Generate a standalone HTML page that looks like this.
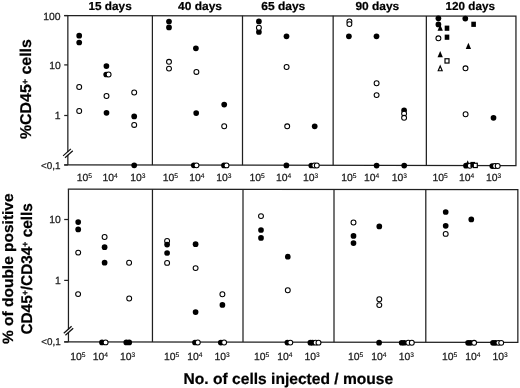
<!DOCTYPE html>
<html><head><meta charset="utf-8"><title>Engraftment chart</title>
<style>
html,body{margin:0;padding:0;background:#fff;}
body{width:520px;height:388px;overflow:hidden;font-family:"Liberation Sans",sans-serif;}
svg{display:block;will-change:transform;filter:blur(0.25px);}
.t{font-family:"Liberation Sans",sans-serif;font-size:10.4px;text-rendering:geometricPrecision;fill:#1a1a1a;stroke:#1a1a1a;stroke-width:0.25px;}
.s{font-family:"Liberation Sans",sans-serif;font-size:6.7px;text-rendering:geometricPrecision;fill:#111;stroke:#111;stroke-width:0.12px;}
.b{font-family:"Liberation Sans",sans-serif;font-weight:bold;text-rendering:geometricPrecision;fill:#000;stroke:#000;stroke-width:0.22px;}
</style></head><body>
<svg width="520" height="388" viewBox="0 0 520 388">
<rect width="520" height="388" fill="#fff"/>
<path d="M64.2 15.53L515.95 16.07L515.95 165.52L64.2 164.98" fill="none" stroke="#202020" stroke-width="1.25" stroke-linejoin="miter"/>
<line x1="67.85" y1="15.53" x2="67.85" y2="164.98" stroke="#202020" stroke-width="1.25"/>
<line x1="152.4" y1="15.63" x2="152.4" y2="165.08" stroke="#202020" stroke-width="1.25"/>
<line x1="242.5" y1="15.74" x2="242.5" y2="165.19" stroke="#202020" stroke-width="1.25"/>
<line x1="333.15" y1="15.85" x2="333.15" y2="165.3" stroke="#202020" stroke-width="1.25"/>
<line x1="426.35" y1="15.96" x2="426.35" y2="165.41" stroke="#202020" stroke-width="1.25"/>
<path d="M67.825 189.18L517.85 189.72L517.85 342.42L64.2 341.88" fill="none" stroke="#202020" stroke-width="1.25" stroke-linejoin="miter"/>
<line x1="68.45" y1="189.18" x2="68.45" y2="341.88" stroke="#202020" stroke-width="1.25"/>
<line x1="152.45" y1="189.28" x2="152.45" y2="341.98" stroke="#202020" stroke-width="1.25"/>
<line x1="243.0" y1="189.39" x2="243.0" y2="342.09" stroke="#202020" stroke-width="1.25"/>
<line x1="334.0" y1="189.5" x2="334.0" y2="342.2" stroke="#202020" stroke-width="1.25"/>
<line x1="425.8" y1="189.61" x2="425.8" y2="342.31" stroke="#202020" stroke-width="1.25"/>
<line x1="64.2" y1="15.55" x2="67.85" y2="15.55" stroke="#202020" stroke-width="1.25"/>
<line x1="64.2" y1="64.9" x2="67.85" y2="64.9" stroke="#202020" stroke-width="1.25"/>
<line x1="64.2" y1="115.5" x2="67.85" y2="115.5" stroke="#202020" stroke-width="1.25"/>
<line x1="64.2" y1="165.0" x2="67.85" y2="165.0" stroke="#202020" stroke-width="1.25"/>
<line x1="64.2" y1="219.5" x2="68.45" y2="219.5" stroke="#202020" stroke-width="1.25"/>
<line x1="64.2" y1="280.4" x2="68.45" y2="280.4" stroke="#202020" stroke-width="1.25"/>
<line x1="64.2" y1="341.9" x2="68.45" y2="341.9" stroke="#202020" stroke-width="1.25"/>
<rect x="66.64999999999999" y="152.1" width="2.4" height="2.8000000000000114" fill="#fff"/>
<line x1="63.1" y1="155.9" x2="70.9" y2="148.9" stroke="#111" stroke-width="1.25"/>
<line x1="65.0" y1="157.8" x2="72.80000000000001" y2="150.8" stroke="#111" stroke-width="1.25"/>
<rect x="67.25" y="329.4" width="2.4" height="2.900000000000034" fill="#fff"/>
<line x1="63.800000000000004" y1="333.2" x2="71.60000000000001" y2="326.2" stroke="#111" stroke-width="1.25"/>
<line x1="65.39999999999999" y1="335.2" x2="73.2" y2="328.2" stroke="#111" stroke-width="1.25"/>
<text x="60.6" y="19.55" text-anchor="end" class="t">100</text>
<text x="60.7" y="68.6" text-anchor="end" class="t">10</text>
<text x="60.6" y="118.6" text-anchor="end" class="t">1</text>
<text x="60.4" y="168.5" text-anchor="end" class="t" style="font-size:9.9px">&lt;0,1</text>
<text x="60.9" y="223.1" text-anchor="end" class="t">10</text>
<text x="60.7" y="283.8" text-anchor="end" class="t">1</text>
<text x="60.8" y="344.6" text-anchor="end" class="t" style="font-size:9.9px">&lt;0,1</text>
<text x="76.78" y="181.0" class="t">10</text>
<text x="88.28" y="177.7" class="s">5</text>
<text x="102.58" y="181.0" class="t">10</text>
<text x="114.08" y="177.7" class="s">4</text>
<text x="130.28" y="181.0" class="t">10</text>
<text x="141.78" y="177.7" class="s">3</text>
<text x="162.63" y="181.0" class="t">10</text>
<text x="174.13" y="177.7" class="s">5</text>
<text x="189.23" y="181.0" class="t">10</text>
<text x="200.73" y="177.7" class="s">4</text>
<text x="216.23" y="181.0" class="t">10</text>
<text x="227.73" y="177.7" class="s">3</text>
<text x="249.52999999999997" y="181.0" class="t">10</text>
<text x="261.03" y="177.7" class="s">5</text>
<text x="276.03" y="181.0" class="t">10</text>
<text x="287.53" y="177.7" class="s">4</text>
<text x="302.93" y="181.0" class="t">10</text>
<text x="314.43" y="177.7" class="s">3</text>
<text x="341.18" y="181.0" class="t">10</text>
<text x="352.68" y="177.7" class="s">5</text>
<text x="363.93" y="181.0" class="t">10</text>
<text x="375.43" y="177.7" class="s">4</text>
<text x="391.63" y="181.0" class="t">10</text>
<text x="403.13" y="177.7" class="s">3</text>
<text x="432.53" y="181.0" class="t">10</text>
<text x="444.03" y="177.7" class="s">5</text>
<text x="459.03" y="181.0" class="t">10</text>
<text x="470.53" y="177.7" class="s">4</text>
<text x="486.03" y="181.0" class="t">10</text>
<text x="497.53" y="177.7" class="s">3</text>
<text x="70.17999999999999" y="360.1" class="t">10</text>
<text x="81.67999999999999" y="356.8" class="s">5</text>
<text x="92.78" y="360.1" class="t">10</text>
<text x="104.28" y="356.8" class="s">4</text>
<text x="120.07999999999998" y="360.1" class="t">10</text>
<text x="131.57999999999998" y="356.8" class="s">3</text>
<text x="164.07999999999998" y="360.1" class="t">10</text>
<text x="175.57999999999998" y="356.8" class="s">5</text>
<text x="187.18" y="360.1" class="t">10</text>
<text x="198.68" y="356.8" class="s">4</text>
<text x="214.38" y="360.1" class="t">10</text>
<text x="225.88" y="356.8" class="s">3</text>
<text x="254.07999999999998" y="360.1" class="t">10</text>
<text x="265.58" y="356.8" class="s">5</text>
<text x="277.18" y="360.1" class="t">10</text>
<text x="288.68" y="356.8" class="s">4</text>
<text x="304.48" y="360.1" class="t">10</text>
<text x="315.98" y="356.8" class="s">3</text>
<text x="347.93" y="360.1" class="t">10</text>
<text x="359.43" y="356.8" class="s">5</text>
<text x="371.33" y="360.1" class="t">10</text>
<text x="382.83" y="356.8" class="s">4</text>
<text x="398.68" y="360.1" class="t">10</text>
<text x="410.18" y="356.8" class="s">3</text>
<text x="442.08" y="360.1" class="t">10</text>
<text x="453.58" y="356.8" class="s">5</text>
<text x="465.18" y="360.1" class="t">10</text>
<text x="476.68" y="356.8" class="s">4</text>
<text x="492.48" y="360.1" class="t">10</text>
<text x="503.98" y="356.8" class="s">3</text>
<text x="88.5" y="10.3" class="b" font-size="11.6" textLength="43.2" lengthAdjust="spacingAndGlyphs">15 days</text>
<text x="178" y="10.3" class="b" font-size="11.6" textLength="44.05" lengthAdjust="spacingAndGlyphs">40 days</text>
<text x="261.25" y="10.3" class="b" font-size="11.6" textLength="44.05" lengthAdjust="spacingAndGlyphs">65 days</text>
<text x="355.45" y="10.3" class="b" font-size="11.6" textLength="43.8" lengthAdjust="spacingAndGlyphs">90 days</text>
<text x="445.6" y="10.3" class="b" font-size="11.6" textLength="49.3" lengthAdjust="spacingAndGlyphs">120 days</text>
<text transform="translate(31.45 139.1) rotate(-90)" class="b" font-size="15.6" textLength="100.0" lengthAdjust="spacingAndGlyphs">%CD45<tspan dy="-3.8" font-size="8.8">+</tspan><tspan dy="3.8"> cells</tspan></text>
<text transform="translate(12.75 344.0) rotate(-90)" class="b" font-size="14.9" textLength="150.6" lengthAdjust="spacingAndGlyphs">% of double positive</text>
<text transform="translate(31.7 334.6) rotate(-90)" class="b" font-size="15.5" textLength="131.5" lengthAdjust="spacingAndGlyphs">CD45<tspan dy="-3.8" font-size="8.8">+</tspan><tspan dy="3.8">/CD34</tspan><tspan dy="-3.8" font-size="8.8">+</tspan><tspan dy="3.8"> cells</tspan></text>
<text x="183.6" y="383.55" class="b" font-size="15.5" textLength="209.6" lengthAdjust="spacingAndGlyphs">No. of cells injected / mouse</text>
<circle cx="79.2" cy="35.7" r="2.85" fill="#000"/>
<circle cx="79.2" cy="42.5" r="2.85" fill="#000"/>
<circle cx="79.2" cy="87" r="2.45" fill="#fff" stroke="#000" stroke-width="1.05"/>
<circle cx="79.2" cy="111" r="2.45" fill="#fff" stroke="#000" stroke-width="1.05"/>
<circle cx="106.4" cy="66.1" r="2.85" fill="#000"/>
<circle cx="106.2" cy="74.5" r="2.85" fill="#000"/>
<circle cx="108.6" cy="74.5" r="2.45" fill="#fff" stroke="#000" stroke-width="1.05"/>
<circle cx="106.5" cy="96" r="2.45" fill="#fff" stroke="#000" stroke-width="1.05"/>
<circle cx="106.5" cy="112.8" r="2.85" fill="#000"/>
<circle cx="134.2" cy="92.5" r="2.45" fill="#fff" stroke="#000" stroke-width="1.05"/>
<circle cx="134.2" cy="116.4" r="2.85" fill="#000"/>
<circle cx="134.2" cy="124.9" r="2.45" fill="#fff" stroke="#000" stroke-width="1.05"/>
<circle cx="134.2" cy="165.28" r="2.85" fill="#000"/>
<circle cx="169" cy="21.5" r="2.85" fill="#000"/>
<circle cx="169" cy="27.4" r="2.85" fill="#000"/>
<circle cx="169" cy="61.8" r="2.45" fill="#fff" stroke="#000" stroke-width="1.05"/>
<circle cx="169" cy="68.6" r="2.45" fill="#fff" stroke="#000" stroke-width="1.05"/>
<circle cx="195.9" cy="48.3" r="2.85" fill="#000"/>
<circle cx="196.4" cy="71.9" r="2.45" fill="#fff" stroke="#000" stroke-width="1.05"/>
<circle cx="196.2" cy="113.1" r="2.85" fill="#000"/>
<circle cx="193.8" cy="165.36" r="2.85" fill="#000"/>
<circle cx="196.5" cy="165.36" r="2.45" fill="#fff" stroke="#000" stroke-width="1.05"/>
<circle cx="224.2" cy="104.6" r="2.85" fill="#000"/>
<circle cx="224.2" cy="126.2" r="2.45" fill="#fff" stroke="#000" stroke-width="1.05"/>
<circle cx="224" cy="165.39" r="2.85" fill="#000"/>
<circle cx="226.5" cy="165.4" r="2.45" fill="#fff" stroke="#000" stroke-width="1.05"/>
<circle cx="258.9" cy="21.4" r="2.85" fill="#000"/>
<circle cx="258.9" cy="32" r="2.85" fill="#000"/>
<circle cx="258.9" cy="27.8" r="2.45" fill="#fff" stroke="#000" stroke-width="1.05"/>
<circle cx="286.5" cy="36.3" r="2.85" fill="#000"/>
<circle cx="286.6" cy="67" r="2.45" fill="#fff" stroke="#000" stroke-width="1.05"/>
<circle cx="287.2" cy="126.3" r="2.45" fill="#fff" stroke="#000" stroke-width="1.05"/>
<circle cx="286.4" cy="165.47" r="2.85" fill="#000"/>
<circle cx="314.7" cy="126.3" r="2.85" fill="#000"/>
<circle cx="311.3" cy="165.5" r="2.85" fill="#000"/>
<circle cx="314.3" cy="165.51" r="2.45" fill="#fff" stroke="#000" stroke-width="1.05"/>
<circle cx="316.8" cy="165.51" r="2.45" fill="#fff" stroke="#000" stroke-width="1.05"/>
<circle cx="349.4" cy="21.5" r="2.45" fill="#fff" stroke="#000" stroke-width="1.05"/>
<circle cx="349.4" cy="24.1" r="2.45" fill="#fff" stroke="#000" stroke-width="1.05"/>
<circle cx="348.9" cy="36.3" r="2.85" fill="#000"/>
<circle cx="376.5" cy="36.3" r="2.85" fill="#000"/>
<circle cx="376.6" cy="83.2" r="2.45" fill="#fff" stroke="#000" stroke-width="1.05"/>
<circle cx="376.6" cy="95.1" r="2.45" fill="#fff" stroke="#000" stroke-width="1.05"/>
<circle cx="376.6" cy="165.58" r="2.85" fill="#000"/>
<circle cx="404.1" cy="110.4" r="2.85" fill="#000"/>
<circle cx="404.1" cy="113.6" r="2.45" fill="#fff" stroke="#000" stroke-width="1.05"/>
<circle cx="404.1" cy="117.8" r="2.45" fill="#fff" stroke="#000" stroke-width="1.05"/>
<circle cx="404.2" cy="165.62" r="2.85" fill="#000"/>
<circle cx="438.4" cy="18.3" r="2.85" fill="#000"/>
<circle cx="438.4" cy="24.4" r="2.85" fill="#000"/>
<path d="M440.2 24.599999999999998L442.84999999999997 30.799999999999997H437.55Z" fill="#000"/>
<rect x="444.7" y="25.599999999999998" width="4.6" height="5.2" fill="#000"/>
<rect x="444.7" y="34.6" width="4.6" height="5.2" fill="#000"/>
<circle cx="438.4" cy="38.3" r="2.45" fill="#fff" stroke="#000" stroke-width="1.05"/>
<path d="M440.2 51.1L442.84999999999997 57.3H437.55Z" fill="#000"/>
<rect x="445.0" y="58.75" width="4.0" height="4.3" fill="#fff" stroke="#000" stroke-width="1.2"/>
<path d="M440.2 66.0L442.2 70.75H438.2Z" fill="#fff" stroke="#000" stroke-width="1.15"/>
<circle cx="465.3" cy="18.6" r="2.85" fill="#000"/>
<rect x="471.3" y="21.7" width="4.6" height="5.2" fill="#000"/>
<path d="M468.4 42.800000000000004L471.04999999999995 49.0H465.75Z" fill="#000"/>
<circle cx="465.5" cy="68.3" r="2.45" fill="#fff" stroke="#000" stroke-width="1.05"/>
<circle cx="465.6" cy="114.2" r="2.45" fill="#fff" stroke="#000" stroke-width="1.05"/>
<circle cx="493.5" cy="117.8" r="2.85" fill="#000"/>
<circle cx="466.0" cy="165.7" r="2.85" fill="#000"/>
<path d="M467.7 160.2L470.34999999999997 166.4H465.05Z" fill="#000"/>
<circle cx="469.8" cy="165.7" r="2.45" fill="#fff" stroke="#000" stroke-width="1.05"/>
<rect x="470.4" y="161.9" width="4.6" height="5.2" fill="#000"/>
<rect x="473.3" y="163.25" width="4.0" height="4.3" fill="#fff" stroke="#000" stroke-width="1.2"/>
<circle cx="492.3" cy="166.03" r="2.85" fill="#000"/>
<circle cx="495" cy="166.03" r="2.45" fill="#fff" stroke="#000" stroke-width="1.05"/>
<circle cx="497.7" cy="166.04000000000002" r="2.45" fill="#fff" stroke="#000" stroke-width="1.05"/>
<circle cx="78.2" cy="222.1" r="2.85" fill="#000"/>
<circle cx="78.2" cy="229.4" r="2.85" fill="#000"/>
<circle cx="78.2" cy="252.6" r="2.45" fill="#fff" stroke="#000" stroke-width="1.05"/>
<circle cx="78.1" cy="294.1" r="2.45" fill="#fff" stroke="#000" stroke-width="1.05"/>
<circle cx="104.6" cy="237" r="2.45" fill="#fff" stroke="#000" stroke-width="1.05"/>
<circle cx="104.6" cy="247.2" r="2.85" fill="#000"/>
<circle cx="104.6" cy="262.7" r="2.85" fill="#000"/>
<circle cx="102" cy="342.39" r="2.85" fill="#000"/>
<circle cx="105.6" cy="342.39" r="2.45" fill="#fff" stroke="#000" stroke-width="1.05"/>
<circle cx="129.1" cy="262.7" r="2.45" fill="#fff" stroke="#000" stroke-width="1.05"/>
<circle cx="129.2" cy="298.5" r="2.45" fill="#fff" stroke="#000" stroke-width="1.05"/>
<circle cx="126.3" cy="342.42" r="2.85" fill="#000"/>
<circle cx="129.2" cy="342.42" r="2.85" fill="#000"/>
<circle cx="167.1" cy="240.9" r="2.45" fill="#fff" stroke="#000" stroke-width="1.05"/>
<circle cx="167.1" cy="244.6" r="2.85" fill="#000"/>
<circle cx="167.1" cy="253" r="2.85" fill="#000"/>
<circle cx="167.1" cy="262.9" r="2.45" fill="#fff" stroke="#000" stroke-width="1.05"/>
<circle cx="195.6" cy="244.2" r="2.85" fill="#000"/>
<circle cx="195.6" cy="268.1" r="2.45" fill="#fff" stroke="#000" stroke-width="1.05"/>
<circle cx="195.6" cy="312.1" r="2.85" fill="#000"/>
<circle cx="195" cy="342.5" r="2.85" fill="#000"/>
<circle cx="197.8" cy="342.5" r="2.45" fill="#fff" stroke="#000" stroke-width="1.05"/>
<circle cx="222.4" cy="294.2" r="2.45" fill="#fff" stroke="#000" stroke-width="1.05"/>
<circle cx="222.4" cy="304.9" r="2.85" fill="#000"/>
<circle cx="220.8" cy="342.53" r="2.85" fill="#000"/>
<circle cx="224.1" cy="342.53" r="2.45" fill="#fff" stroke="#000" stroke-width="1.05"/>
<circle cx="261" cy="216.1" r="2.45" fill="#fff" stroke="#000" stroke-width="1.05"/>
<circle cx="261" cy="230" r="2.85" fill="#000"/>
<circle cx="261" cy="237.9" r="2.85" fill="#000"/>
<circle cx="287.8" cy="256.7" r="2.85" fill="#000"/>
<circle cx="287.8" cy="290.2" r="2.45" fill="#fff" stroke="#000" stroke-width="1.05"/>
<circle cx="287.4" cy="342.6" r="2.85" fill="#000"/>
<circle cx="290.3" cy="342.61" r="2.45" fill="#fff" stroke="#000" stroke-width="1.05"/>
<circle cx="310.4" cy="342.63" r="2.85" fill="#000"/>
<circle cx="312.5" cy="342.63" r="2.85" fill="#000"/>
<circle cx="315.6" cy="342.64" r="2.45" fill="#fff" stroke="#000" stroke-width="1.05"/>
<circle cx="318.5" cy="342.64" r="2.45" fill="#fff" stroke="#000" stroke-width="1.05"/>
<circle cx="353.5" cy="222.5" r="2.45" fill="#fff" stroke="#000" stroke-width="1.05"/>
<circle cx="353.5" cy="235.9" r="2.85" fill="#000"/>
<circle cx="353.5" cy="243.1" r="2.85" fill="#000"/>
<circle cx="379.3" cy="226.4" r="2.85" fill="#000"/>
<circle cx="379.3" cy="299.2" r="2.45" fill="#fff" stroke="#000" stroke-width="1.05"/>
<circle cx="379.3" cy="305.1" r="2.45" fill="#fff" stroke="#000" stroke-width="1.05"/>
<circle cx="379.1" cy="342.71" r="2.85" fill="#000"/>
<circle cx="401.7" cy="342.73" r="2.85" fill="#000"/>
<circle cx="404.2" cy="342.74" r="2.85" fill="#000"/>
<circle cx="408.3" cy="342.74" r="2.45" fill="#fff" stroke="#000" stroke-width="1.05"/>
<circle cx="411.8" cy="342.75" r="2.45" fill="#fff" stroke="#000" stroke-width="1.05"/>
<circle cx="445.7" cy="212" r="2.85" fill="#000"/>
<circle cx="445.7" cy="225.8" r="2.85" fill="#000"/>
<circle cx="445.7" cy="233.9" r="2.45" fill="#fff" stroke="#000" stroke-width="1.05"/>
<circle cx="471.3" cy="219.4" r="2.85" fill="#000"/>
<circle cx="468.1" cy="342.81" r="2.85" fill="#000"/>
<circle cx="470.5" cy="342.81" r="2.85" fill="#000"/>
<circle cx="474.1" cy="342.82" r="2.45" fill="#fff" stroke="#000" stroke-width="1.05"/>
<circle cx="493" cy="342.84" r="2.85" fill="#000"/>
<circle cx="495.4" cy="342.84" r="2.85" fill="#000"/>
<circle cx="498.4" cy="342.85" r="2.45" fill="#fff" stroke="#000" stroke-width="1.05"/>
<circle cx="501.2" cy="342.85" r="2.45" fill="#fff" stroke="#000" stroke-width="1.05"/>
</svg>
</body></html>
